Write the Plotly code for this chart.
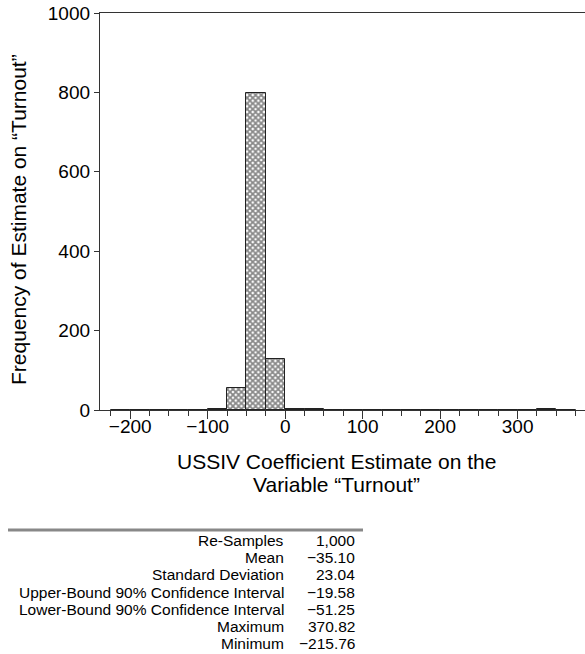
import plotly.graph_objects as go

# ---- data ----
bin_lefts = [-225, -200, -175, -150, -125, -100, -75, -50, -25, 0, 25, 50,
             75, 100, 125, 150, 175, 200, 225, 250, 275, 300, 325, 350]
counts = [1, 1, 0, 1, 1, 3, 56, 798, 128, 3, 3, 1,
          0, 0, 0, 0, 0, 0, 0, 0, 0, 1, 2, 1]
bin_width = 25

stat_labels = ["Re-Samples", "Mean", "Standard Deviation",
               "Upper-Bound 90% Confidence Interval",
               "Lower-Bound 90% Confidence Interval", "Maximum", "Minimum"]
stat_values = ["1,000", "\u221235.10", "23.04", "\u221219.58", "\u221251.25",
               "370.82", "\u2212215.76"]

x_title_lines = ["USSIV Coefficient Estimate on the", "Variable \u201cTurnout\u201d"]
y_title = "Frequency of Estimate on \u201cTurnout\u201d"

FONT = "Liberation Sans, Arial, Helvetica, sans-serif"
W, H = 585, 654
L, R, T, B = 100, 0, 13, 244
pw = W - L - R
ph = H - T - B


def px_x(px):
    return (px - L) / pw


def px_y(py):
    return (H - B - py) / ph


fig = go.Figure()
fig.add_trace(go.Bar(
    x=bin_lefts, y=counts, width=bin_width, offset=0,
    marker=dict(
        color="white",
        line=dict(color="#222", width=1),
        pattern=dict(shape="x", fgcolor="#111", bgcolor="white",
                     size=4, solidity=0.7, fillmode="overlay"),
    ),
    showlegend=False, hoverinfo="x+y",
))

axis_col = "#333"
fig.update_layout(
    width=W, height=H, autosize=False,
    margin=dict(l=L, r=R, t=T, b=B, pad=0),
    paper_bgcolor="white", plot_bgcolor="white",
    font=dict(family=FONT, size=19, color="black"),
    bargap=0,
    xaxis=dict(
        range=[-239, 387], showgrid=False, zeroline=False,
        showline=True, linecolor=axis_col, linewidth=1.3, mirror=True,
        tickmode="linear", tick0=0, dtick=100,
        ticks="outside", ticklen=8, tickwidth=1.3, tickcolor=axis_col,
        ticklabelstandoff=-9,
        tickfont=dict(size=19, family=FONT, color="black"),
        minor=dict(tickmode="linear", tick0=0, dtick=25, ticks="outside",
                   ticklen=5, tickwidth=1.3, tickcolor=axis_col, showgrid=False),
    ),
    yaxis=dict(
        range=[0, 1000], showgrid=False, zeroline=False,
        showline=True, linecolor=axis_col, linewidth=1.3,
        tickmode="linear", tick0=0, dtick=200,
        ticks="outside", ticklen=5, tickwidth=1.3, tickcolor=axis_col,
        tickfont=dict(size=19, family=FONT, color="black"),
    ),
)

ann = []
# x title lines
for i, line in enumerate(x_title_lines):
    ann.append(dict(text=line, xref="paper", yref="paper",
                    x=px_x(336), y=px_y(461 + 24 * i),
                    xanchor="center", yanchor="middle", showarrow=False,
                    font=dict(size=21, family=FONT, color="black")))
# y title
ann.append(dict(text=y_title, xref="paper", yref="paper",
                x=px_x(18), y=px_y(220), textangle=-90,
                xanchor="center", yanchor="middle", showarrow=False,
                font=dict(size=21, family=FONT, color="black")))
# stats table
for i, (lab, val) in enumerate(zip(stat_labels, stat_values)):
    yy = px_y(540.5 + 17.2 * i)
    ann.append(dict(text=lab, xref="paper", yref="paper", x=px_x(286), y=yy,
                    xanchor="right", yanchor="middle", showarrow=False,
                    font=dict(size=15.5, family=FONT, color="black")))
    ann.append(dict(text=val, xref="paper", yref="paper", x=px_x(357), y=yy,
                    xanchor="right", yanchor="middle", showarrow=False,
                    font=dict(size=15.5, family=FONT, color="black")))
fig.update_layout(annotations=ann)

fig.add_shape(type="line", xref="paper", yref="paper",
              x0=px_x(8), x1=px_x(363), y0=px_y(530), y1=px_y(530),
              line=dict(color="#888", width=3))

fig.write_html("out.html")
